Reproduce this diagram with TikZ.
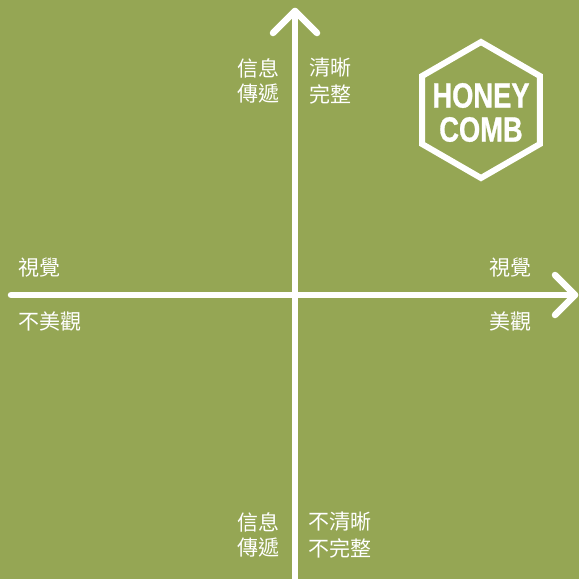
\documentclass[tikz,border=0pt]{standalone}
\usepackage{fontspec}
\setmainfont{Liberation Sans}
\newfontfamily\cjk{Noto Sans CJK TC}
\newfontfamily\logofont[FakeBold=1]{Liberation Sans Bold}
\definecolor{bg}{RGB}{149,166,84}
\begin{document}
\begin{tikzpicture}[x=1pt,y=-1pt,
  axis/.style={draw=white,line width=6.5pt,line cap=round,line join=round},
  lbl/.style={text=white,font=\cjk\fontsize{21}{25}\selectfont,inner sep=0pt},
  logoline/.style={draw=white,line width=6pt,line join=miter},
  logotext/.style={text=white,font=\logofont\fontsize{35}{34}\selectfont,align=center,inner sep=0pt}]
\fill[bg] (0,0) rectangle (579,579);
\useasboundingbox (0,0) rectangle (579,579);
% labels
\node[lbl,anchor=east] (tl1) at (280,68) {信息};
\node[lbl,anchor=east] (tl2) at (280,94) {傳遞};
\node[lbl,anchor=west] (tr1) at (309,68) {清晰};
\node[lbl,anchor=west] (tr2) at (309,94) {完整};
\node[lbl,anchor=east] (bl1) at (280,522) {信息};
\node[lbl,anchor=east] (bl2) at (280,548) {傳遞};
\node[lbl,anchor=west] (br1) at (308,522) {不清晰};
\node[lbl,anchor=west] (br2) at (308,548) {不完整};
\node[lbl,anchor=west] (l1) at (18,268) {視覺};
\node[lbl,anchor=west] (l2) at (18,322) {不美觀};
\node[lbl,anchor=east] (r1) at (532,268) {視覺};
\node[lbl,anchor=east] (r2) at (532,322) {美觀};
% logo
\coordinate (hc) at (481,110);
\draw[logoline] (hc) ++(0,-68) -- ++(58.9,34) -- ++(0,68) -- ++(-58.9,34) -- ++(-58.9,-34) -- ++(0,-68) -- cycle;
\node[logotext] (logo) at (481,112.5) {\scalebox{0.78}[1]{HONEY}\\\scalebox{0.78}[1]{COMB}};
% axes
\coordinate (ytop) at (295,11);
\coordinate (ybot) at (295,590);
\coordinate (xl) at (11,295);
\coordinate (xr) at (575,295);
\draw[axis] (ybot) -- (ytop);
\draw[axis] (ytop) ++(-22,22) -- (ytop) -- ++(22,22);
\draw[axis] (xl) -- (xr);
\draw[axis] (xr) ++(-20,-20) -- (xr) -- ++(-20,20);
\end{tikzpicture}
\end{document}
